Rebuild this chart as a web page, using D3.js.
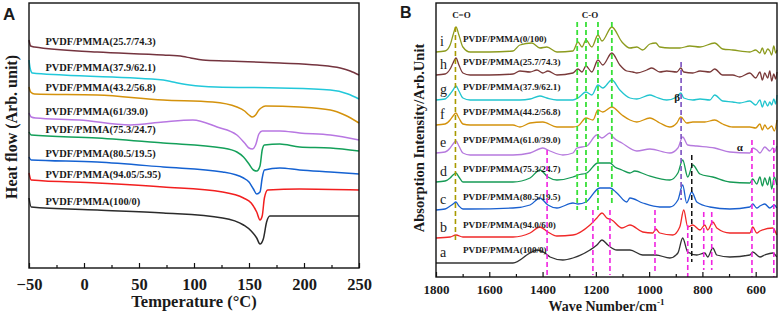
<!DOCTYPE html>
<html>
<head>
<meta charset="utf-8">
<script src="https://cdn.jsdelivr.net/npm/d3@7"></script>
<style>
  body { margin: 0; background: #fff; }
  svg { display: block; }
  text { font-family: "Liberation Serif", "Times New Roman", serif; fill: #1a1a1a; }
</style>
</head>
<body>
<svg id="chart" width="782" height="313"></svg>
<script>
// ---------- Panel A: DSC curves (temperature in °C, heat flow in arb. units) ----------
const dscSamples = [
  "PVDF/PMMA(25.7/74.3)", "PVDF/PMMA(37.9/62.1)", "PVDF/PMMA(43.2/56.8)", "PVDF/PMMA(61/39.0)",
  "PVDF/PMMA(75.3/24.7)", "PVDF/PMMA(80.5/19.5)", "PVDF/PMMA(94.05/5.95)", "PVDF/PMMA(100/0)"
];
const dscBrown  = [[-50,22.8],[-48.5,22.2],[-45,22.1],[12,21.6],[72,21.3],[90,21.15],[97,21.0],[108,20.8],[130,20.7],[178,20.5],[212,20.3],[233,20.0],[242,19.7],[250,19.3]];
const dscCyan   = [[-50,20.8],[-49,20.0],[-47,19.5],[-19,19.3],[72,18.8],[81,18.6],[90,18.4],[96,18.3],[120,18.1],[178,18.0],[224,17.8],[240,17.4],[250,16.9]];
const dscOrange = [[-50,18.1],[-48.5,17.6],[-45,17.4],[12,17.3],[72,16.8],[117,16.6],[139,16.1],[146,15.7],[150,15.3],[153,15.1],[156,15.3],[159,15.8],[161,16.0],[165,16.2],[196,16.1],[224,15.8],[237,15.3],[250,14.5]];
const dscPurple = [[-50,15.5],[-48,15.1],[-44,15.0],[-4,14.8],[42,14.3],[72,14.6],[99,14.8],[121,14.1],[139,13.3],[146,12.5],[150,12.0],[153,11.9],[156,12.3],[159,13.4],[162,13.7],[178,13.7],[196,13.5],[224,13.3],[250,12.8]];
const dscGreen  = [[-50,13.6],[-48,13.3],[12,13.0],[72,12.5],[126,12.0],[139,11.6],[145,11.1],[150,10.4],[154,9.8],[157,9.7],[160,10.2],[162,11.8],[164,12.3],[178,12.4],[196,12.1],[224,12.0],[250,11.7]];
const dscBlue   = [[-50,11.1],[-48,10.8],[12,10.6],[72,10.1],[126,9.6],[145,9.0],[150,8.6],[154,7.9],[157,7.4],[160,7.6],[162,9.0],[164,9.8],[178,10.0],[196,9.8],[224,9.6],[250,9.4]];
const dscRed    = [[-50,9.5],[-48,8.8],[12,8.5],[72,8.1],[126,7.6],[145,7.0],[152,6.5],[157,5.6],[160,4.8],[162,5.2],[164,7.0],[167,7.8],[196,7.9],[250,7.8]];
const dscBlack  = [[-50,7.0],[-48,6.1],[12,5.8],[72,5.5],[126,5.0],[145,4.3],[152,3.7],[157,3.0],[160,2.4],[163,2.9],[166,4.6],[169,5.2],[196,5.2],[250,5.2]];
const dscCurves = [dscBrown, dscCyan, dscOrange, dscPurple, dscGreen, dscBlue, dscRed, dscBlack];
const tempTicks = [-50, 0, 50, 100, 150, 200, 250];

// ---------- Panel B: FTIR spectra (wavenumber in cm-1, absorbance in arb. units) ----------
const irLetters = ["i", "h", "g", "f", "e", "d", "c", "b", "a"];
const irSamples = [
  "PVDF/PMMA(0/100)", "PVDF/PMMA(25.7/74.3)", "PVDF/PMMA(37.9/62.1)", "PVDF/PMMA(44.2/56.8)",
  "PVDF/PMMA(61.0/39.0)", "PVDF/PMMA(75.3/24.7)", "PVDF/PMMA(80.5/19.5)", "PVDF/PMMA(94.0/6.0)", "PVDF/PMMA(100/0)"
];
const irI = [[1800,225],[1766,226],[1747,232],[1736,242],[1725,250],[1714,242],[1699,230],[1672,225],[1600,225],[1511,226],[1485,232],[1440,234],[1410,229],[1384,230],[1346,225],[1286,226],[1267,235],[1252,230],[1237,237],[1215,230],[1192,242],[1177,236],[1140,250],[1102,235],[1072,229],[1046,230],[1024,227],[997,233],[975,234],[960,230],[922,229],[885,229],[847,231],[809,230],[754,234],[724,228],[686,227],[622,225],[600,227],[584,224],[575,229],[566,223],[555,228],[547,226],[540,222],[532,231],[525,224],[520,227]];
const irH = [[1800,202],[1766,203],[1747,208],[1736,214],[1725,219],[1714,212],[1699,204],[1672,202],[1600,202],[1511,203],[1485,206],[1447,205],[1421,207],[1399,204],[1380,206],[1346,202],[1286,204],[1267,208],[1252,205],[1237,211],[1215,205],[1192,217],[1174,212],[1140,224],[1110,212],[1084,206],[1061,205],[1046,204],[1009,207],[990,209],[960,205],[934,206],[896,205],[881,209],[870,205],[836,204],[809,206],[772,205],[754,208],[724,202],[686,202],[660,200],[622,204],[600,199],[584,205],[575,197],[566,204],[555,199],[547,206],[540,196],[532,203],[525,198],[520,205]];
const irG = [[1800,177],[1766,178],[1747,183],[1736,187],[1725,191],[1714,186],[1699,179],[1672,177],[1511,177],[1485,177],[1447,178],[1410,181],[1384,179],[1346,177],[1286,177],[1267,179],[1237,185],[1215,182],[1192,192],[1174,189],[1140,197],[1110,187],[1072,179],[1046,178],[997,182],[975,180],[934,177],[896,180],[881,184],[870,179],[836,177],[809,178],[772,177],[754,182],[724,176],[686,175],[660,174],[622,176],[600,172],[584,177],[575,170],[566,176],[555,171],[547,175],[540,172],[532,178],[525,173],[520,182]];
const irF = [[1800,152],[1766,153],[1747,157],[1736,161],[1725,164],[1714,159],[1699,153],[1672,152],[1511,152],[1485,150],[1447,154],[1399,155],[1346,150],[1286,150],[1267,151],[1237,159],[1211,157],[1192,167],[1174,165],[1140,170],[1102,162],[1072,157],[1046,155],[997,159],[960,154],[922,150],[896,154],[881,160],[859,154],[836,155],[791,155],[754,157],[724,153],[686,150],[622,150],[600,149],[584,153],[575,147],[566,152],[555,148],[540,151],[530,146],[520,157]];
const irE = [[1800,124],[1766,125],[1747,129],[1736,133],[1725,136],[1714,131],[1699,124],[1672,122],[1511,122],[1447,124],[1399,129],[1372,126],[1324,122],[1286,124],[1271,129],[1234,131],[1196,142],[1177,139],[1147,144],[1136,140],[1102,134],[1046,126],[997,128],[922,124],[892,129],[874,140],[855,132],[821,131],[754,129],[697,125],[622,124],[611,129],[596,127],[584,124],[566,130],[547,126],[536,129],[529,125],[521,131]];
const irD = [[1800,95],[1766,96],[1747,99],[1736,102],[1725,104],[1714,100],[1699,95],[1672,95],[1511,95],[1447,99],[1410,107],[1380,100],[1346,97],[1286,100],[1267,102],[1234,104],[1192,114],[1147,114],[1129,110],[1102,107],[1072,104],[1054,106],[1009,102],[922,97],[892,104],[874,117],[855,100],[836,112],[809,103],[761,100],[697,95],[622,94],[611,98],[596,93],[584,100],[575,91],[566,99],[555,92],[547,100],[540,88],[530,100],[521,92]];
const irC = [[1800,67],[1766,68],[1747,71],[1736,73],[1725,75],[1714,71],[1699,68],[1672,68],[1511,69],[1447,72],[1410,79],[1380,72],[1346,69],[1286,74],[1267,73],[1237,75],[1185,89],[1147,89],[1121,84],[1084,75],[1072,79],[1024,74],[960,70],[922,70],[892,77],[874,92],[859,74],[840,85],[821,75],[772,70],[697,68],[622,70],[611,73],[596,69],[584,71],[566,73],[547,69],[530,72],[521,69]];
const irB = [[1800,39],[1747,40],[1725,42],[1699,40],[1600,40],[1511,40],[1447,44],[1410,50],[1380,45],[1346,41],[1286,42],[1222,52],[1196,59],[1177,64],[1159,59],[1140,57],[1102,49],[1072,52],[1024,45],[986,44],[975,48],[960,44],[911,42],[885,50],[870,67],[855,50],[836,52],[809,47],[791,52],[780,47],[761,55],[746,49],[697,44],[622,44],[611,50],[596,44],[584,46],[536,49],[521,42]];
const irA = [[1800,14],[1600,14],[1511,14],[1447,24],[1421,27],[1391,24],[1372,20],[1324,17],[1286,19],[1222,27],[1196,32],[1177,37],[1155,32],[1121,27],[1072,27],[1024,22],[975,22],[922,19],[892,24],[874,39],[855,25],[821,22],[791,24],[780,20],[761,29],[746,22],[697,20],[622,22],[611,25],[584,20],[566,22],[536,24],[521,20]];
const irSpectra = [irI, irH, irG, irF, irE, irD, irC, irB, irA];
const waveTicks = [1800, 1600, 1400, 1200, 1000, 800, 600];

// band markers (wavenumbers)
const bandCO  = [1727];
const bandCOs = [1270, 1237, 1192, 1140];
const bandBeta = [880];
const band840 = [840];
const bandAlpha = [1383, 1211, 1147, 978, 855, 795, 765, 614, 532];

// ---------- styles ----------
const dscColors = ["#74343f", "#22c8da", "#d4920c", "#b877e2", "#14a05a", "#1562d2", "#f21f1f", "#2b2b2b"];
const irColors  = ["#8c9b1e", "#7a3a3a", "#22c5cf", "#d4920c", "#b67ade", "#169a55", "#1a60cf", "#f02828", "#333333"];

const svg = d3.select("#chart");

// ================= Panel A =================
const A = { left: 29, right: 359, top: 3, bottom: 268 };
const xA = d3.scaleLinear().domain([-50, 250]).range([A.left, A.right]);
const yA = d3.scaleLinear().domain([0, 26.5]).range([A.bottom, A.top]);

const gA = svg.append("g");

const lineA = d3.line().x(d => xA(d[0])).y(d => yA(d[1])).curve(d3.curveMonotoneX);

// linear lookup on a curve, only used to place its label
function valueAt(pts, t) {
  for (let i = 1; i < pts.length; i++) {
    if (pts[i][0] >= t) {
      const a = pts[i - 1], b = pts[i];
      return a[1] + (b[1] - a[1]) * (t - a[0]) / (b[0] - a[0]);
    }
  }
  return pts[pts.length - 1][1];
}

dscCurves.forEach((c, i) => {
  gA.append("path")
    .attr("d", lineA(c))
    .attr("fill", "none")
    .attr("stroke", dscColors[i])
    .attr("stroke-width", 1.5);
  gA.append("text")
    .attr("x", xA(-35))
    .attr("y", yA(valueAt(c, -35)) - 3)
    .style("font-size", "10.4px")
    .style("font-weight", "bold")
    .text(dscSamples[i]);
});

// axes
gA.append("g")
  .attr("transform", `translate(0,${A.bottom})`)
  .call(d3.axisBottom(xA).tickValues(d3.range(-25, 250, 50)).tickSize(-3).tickFormat(""))
  .call(g => g.select(".domain").remove());
gA.append("g")
  .attr("transform", `translate(0,${A.bottom})`)
  .call(d3.axisBottom(xA).tickValues(tempTicks).tickSize(-5).tickPadding(10).tickFormat(d3.format("d")))
  .call(g => g.select(".domain").remove())
  .selectAll("text")
  .style("font-size", "16.5px")
  .style("font-weight", "bold")
  .attr("fill", "#1a1a1a")
  .style("font-family", "'Liberation Serif', serif");
gA.selectAll(".tick line").attr("stroke", "#111").attr("stroke-width", 1.2);

gA.append("rect")
  .attr("x", A.left).attr("y", A.top)
  .attr("width", A.right - A.left).attr("height", A.bottom - A.top)
  .attr("fill", "none").attr("stroke", "#111").attr("stroke-width", 1.4);

gA.append("text")
  .attr("x", (A.left + A.right) / 2).attr("y", 307)
  .attr("text-anchor", "middle")
  .style("font-size", "16.5px").style("font-weight", "bold")
  .text("Temperature (°C)");

gA.append("text")
  .attr("transform", "translate(17,127) rotate(-90)")
  .attr("text-anchor", "middle")
  .style("font-size", "16px").style("font-weight", "bold")
  .text("Heat flow (Arb. unit)");

gA.append("text")
  .attr("x", 3).attr("y", 20)
  .style("font-family", "'Liberation Sans', Arial, sans-serif")
  .style("font-size", "17px").style("font-weight", "bold")
  .text("A");

// ================= Panel B =================
const B = { left: 436, right: 777, top: 3, bottom: 277 };
const xB = d3.scaleLinear().domain([1800, 520]).range([B.left, B.right]);
const yB = d3.scaleLinear().domain([0, 274]).range([B.bottom, B.top]);

const gB = svg.append("g");
const lineB = d3.line().x(d => xB(d[0])).y(d => yB(d[1])).curve(d3.curveMonotoneX);

// dashed band markers, extents given in intensity units
function markers(list, top, bottom, color, width) {
  list.forEach((w, k) => {
    const t = Array.isArray(top) ? top[k] : top;
    const b = Array.isArray(bottom) ? bottom[k] : bottom;
    gB.append("line")
      .attr("x1", xB(w)).attr("x2", xB(w))
      .attr("y1", yB(t)).attr("y2", yB(b))
      .attr("stroke", color).attr("stroke-width", width)
      .attr("stroke-dasharray", "5,3");
  });
}

irSpectra.forEach((s, i) => {
  gB.append("path")
    .attr("d", lineB(s))
    .attr("fill", "none")
    .attr("stroke", irColors[i])
    .attr("stroke-width", 1.3);
  gB.append("text")
    .attr("x", 440)
    .attr("y", yB(s[0][1]) - 6)
    .style("font-size", "14px")
    .attr("fill", "#333")
    .text(irLetters[i]);
  gB.append("text")
    .attr("x", 463)
    .attr("y", yB(s[0][1]) - 10)
    .style("font-size", "9.2px")
    .style("font-weight", "bold")
    .text(irSamples[i]);
});

markers(bandCO, 250, 34, "#a89a00", 1.6);
markers(bandCOs, 255, [67, 67, 67, 72], "#38e038", 1.8);
markers(bandBeta, 215, 77, "#7a4fc0", 1.6);
markers(band840, 122, 15, "#111", 1.5);
markers(bandAlpha, [127, 67, 67, 67, 52, 65, 65, 137, 137], [2, 2, 2, 4, 0, 7, 7, 0, 0], "#f024e0", 1.6);

gB.append("g")
  .attr("transform", `translate(0,${B.bottom})`)
  .call(d3.axisBottom(xB).tickValues(d3.range(1700, 500, -200)).tickSize(-3).tickFormat(""))
  .call(g => g.select(".domain").remove());
gB.append("g")
  .attr("transform", `translate(0,${B.bottom})`)
  .call(d3.axisBottom(xB).tickValues(waveTicks).tickSize(-5).tickPadding(8).tickFormat(d3.format("d")))
  .call(g => g.select(".domain").remove())
  .selectAll("text")
  .style("font-size", "13px")
  .style("font-weight", "bold")
  .attr("fill", "#1a1a1a")
  .style("font-family", "'Liberation Serif', serif");
gB.selectAll(".tick line").attr("stroke", "#111").attr("stroke-width", 1.2);

gB.append("rect")
  .attr("x", B.left).attr("y", B.top)
  .attr("width", B.right - B.left).attr("height", B.bottom - B.top)
  .attr("fill", "none").attr("stroke", "#111").attr("stroke-width", 1.4);

const xt = gB.append("text")
  .attr("x", (B.left + B.right) / 2).attr("y", 311)
  .attr("text-anchor", "middle")
  .style("font-size", "14px").style("font-weight", "bold");
xt.append("tspan").text("Wave Number/cm");
xt.append("tspan").attr("dy", -6).style("font-size", "9px").text("-1");

gB.append("text")
  .attr("transform", "translate(424,138) rotate(-90)")
  .attr("text-anchor", "middle")
  .style("font-size", "14.5px").style("font-weight", "bold")
  .text("Absorption Intensity/Arb.Unit");

gB.append("text")
  .attr("x", 400).attr("y", 18)
  .style("font-family", "'Liberation Sans', Arial, sans-serif")
  .style("font-size", "16px").style("font-weight", "bold")
  .text("B");

// band labels
gB.append("text").attr("x", xB(1727) + 6).attr("y", 18).attr("text-anchor", "middle")
  .style("font-size", "9px").style("font-weight", "bold").text("C=O");
gB.append("text").attr("x", xB(1237) + 4).attr("y", 18).attr("text-anchor", "middle")
  .style("font-size", "9px").style("font-weight", "bold").text("C-O");
gB.append("text").attr("x", xB(880) - 4).attr("y", 101).attr("text-anchor", "middle")
  .style("font-size", "11px").style("font-weight", "bold").text("β");
gB.append("text").attr("x", xB(660)).attr("y", 151).attr("text-anchor", "middle")
  .style("font-size", "11px").style("font-weight", "bold").text("α");
</script>
</body>
</html>
